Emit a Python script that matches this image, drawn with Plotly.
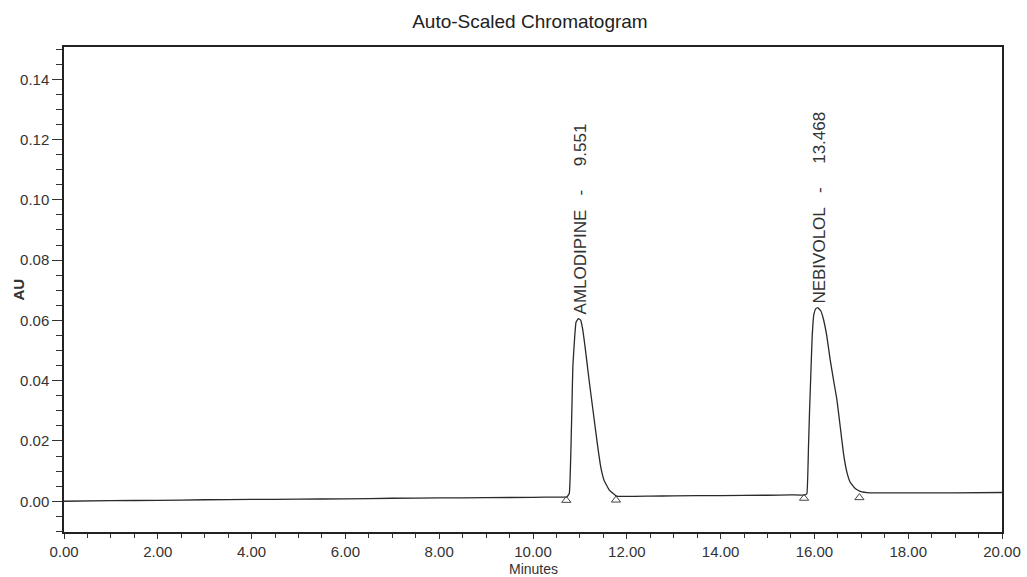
import plotly.graph_objects as go

# Chromatogram trace (minutes, AU)
times = [0, 1, 2, 3, 4, 5, 6, 7, 8, 9, 10, 10.5, 10.72, 10.774,
         10.79, 10.81, 10.83, 10.85, 10.89, 10.917, 10.967, 11.017, 11.06,
         11.109, 11.195, 11.287, 11.380, 11.444, 11.515, 11.628, 11.786,
         12.5, 13, 14, 15, 15.5, 15.80, 15.84,
         15.874, 15.895, 15.925, 15.953, 15.989, 16.03, 16.074, 16.138, 16.194,
         16.265, 16.336, 16.407, 16.48, 16.55, 16.62, 16.69, 16.76, 16.87,
         16.977, 17.19, 18, 19, 20]
absorbance = [0.0000, 0.0002, 0.0003, 0.0005, 0.0006, 0.0007, 0.0008, 0.0010,
              0.0011, 0.0012, 0.0013, 0.0014, 0.0014, 0.0026,
              0.0070, 0.0181, 0.0314, 0.0448, 0.0548, 0.0594, 0.0606, 0.0601, 0.0570,
              0.0514, 0.0403, 0.0292, 0.0181, 0.0114, 0.0070, 0.0037, 0.0017,
              0.0017, 0.0018, 0.0019, 0.0020, 0.0021, 0.0021, 0.0026,
              0.0181, 0.0292, 0.0426, 0.0548, 0.0620, 0.0639, 0.0642, 0.0631, 0.0603,
              0.0548, 0.0470, 0.0403, 0.0337, 0.0248, 0.0159, 0.0098, 0.0064, 0.0042,
              0.0033, 0.0028, 0.0028, 0.0028, 0.0029]

# Peak start/end markers
marker_times = [10.71, 11.77, 15.78, 16.96]
marker_values = [0.0003, 0.0004, 0.0010, 0.0012]

# Peak labels
peak_names = ["AMLODIPINE", "NEBIVOLOL"]
peak_rt_labels = ["9.551", "13.468"]
peak_apex_times = [10.967, 16.074]
peak_apex_values = [0.0606, 0.0642]

x_ticks = [0, 2, 4, 6, 8, 10, 12, 14, 16, 18, 20]
y_ticks = [0.00, 0.02, 0.04, 0.06, 0.08, 0.10, 0.12, 0.14]

FONT = "Liberation Sans, Arial, sans-serif"
INK = "#333333"

fig = go.Figure()
fig.add_trace(go.Scatter(x=times, y=absorbance, mode="lines",
                         line=dict(color="#2a2a2a", width=1.3, shape="spline", smoothing=0.3),
                         hoverinfo="skip", showlegend=False))
fig.add_trace(go.Scatter(x=marker_times, y=marker_values, mode="markers",
                         marker=dict(symbol="triangle-up-open", size=8,
                                     color="#444444", line=dict(width=1)),
                         showlegend=False))

for name, rt, t, v in zip(peak_names, peak_rt_labels, peak_apex_times, peak_apex_values):
    fig.add_annotation(x=t, y=v, xref="x", yref="y",
                       text=name + "\u00a0\u00a0\u00a0-\u00a0\u00a0\u00a0\u00a0\u00a0" + rt,
                       textangle=-90, showarrow=False, xanchor="center", yanchor="bottom",
                       xshift=2, yshift=2, font=dict(family=FONT, size=17, color=INK))

# Axis titles as annotations to match positions
fig.add_annotation(x=0.5, y=-0.0763, xref="paper", yref="paper", text="Minutes",
                   showarrow=False, xanchor="center", yanchor="middle",
                   font=dict(family=FONT, size=14, color=INK))
fig.add_annotation(x=-0.049, y=0.5, xref="paper", yref="paper", text="<b>AU</b>",
                   textangle=-90, showarrow=False, xanchor="center", yanchor="middle",
                   font=dict(family=FONT, size=15, color=INK))

fig.update_layout(
    width=1027, height=577,
    margin=dict(l=64, r=25, t=47, b=45),
    paper_bgcolor="white", plot_bgcolor="white",
    title=dict(text="Auto-Scaled Chromatogram", x=0.516, xanchor="center",
               y=0.963, yanchor="middle",
               font=dict(family=FONT, size=19, color="#222222")),
    font=dict(family=FONT, size=15, color=INK),
)
fig.update_xaxes(range=[0, 20], tickvals=x_ticks, tickformat=".2f",
                 ticks="outside", ticklen=5, tickwidth=1, tickcolor=INK,
                 minor=dict(dtick=0.5, ticks="outside", ticklen=4, tickcolor=INK),
                 showline=True, linecolor="#222222", linewidth=1.5, mirror=True,
                 showgrid=False, zeroline=False, automargin=False)
fig.update_yaxes(range=[-0.0102, 0.1507], tickvals=y_ticks, tickformat=".2f",
                 ticks="outside", ticklen=10, tickwidth=1, tickcolor=INK,
                 minor=dict(dtick=0.005, ticks="outside", ticklen=6, tickcolor=INK),
                 showline=True, linecolor="#222222", linewidth=1.5, mirror=True,
                 showgrid=False, zeroline=False, automargin=False)

fig.write_html("out.html")
